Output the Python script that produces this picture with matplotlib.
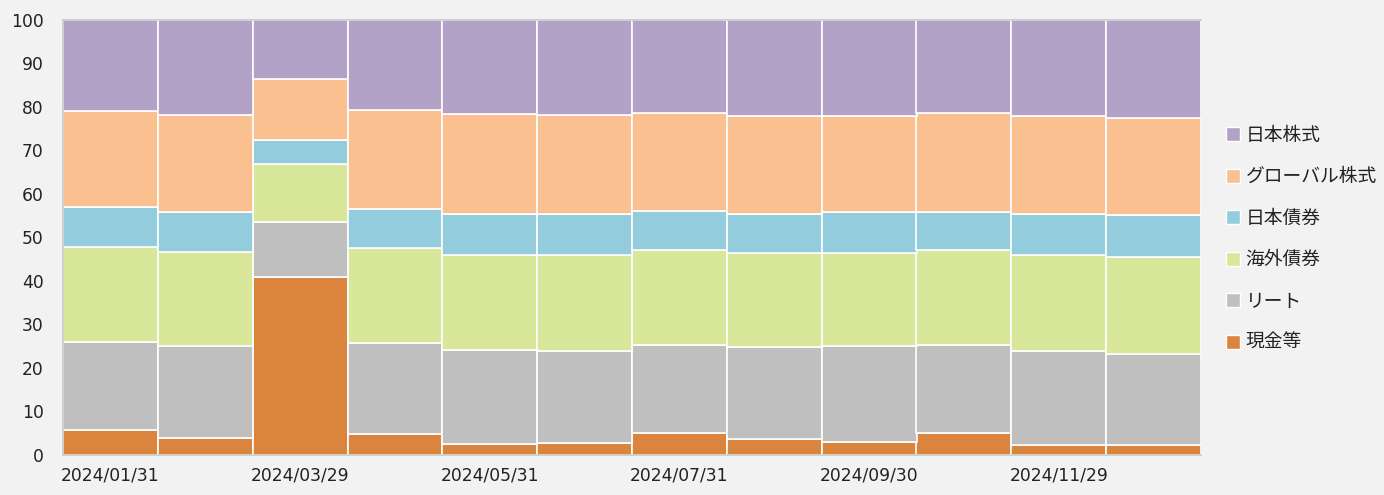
import matplotlib
matplotlib.use("Agg")
import matplotlib.pyplot as plt
from matplotlib.lines import Line2D

dates = ["2024/01/31", "2024/02/29", "2024/03/29", "2024/04/30", "2024/05/31", "2024/06/28",
         "2024/07/31", "2024/08/30", "2024/09/30", "2024/10/31", "2024/11/29", "2024/12/30"]
series_names = ["現金等", "リート", "海外債券", "日本債券", "グローバル株式", "日本株式"]
cash = [5.6, 3.9, 40.8, 4.7, 2.4, 2.6, 4.9, 3.6, 2.9, 4.9, 2.2, 2.2]
reit = [20.3, 21.1, 12.7, 21.0, 21.6, 21.2, 20.3, 21.1, 22.1, 20.3, 21.7, 20.9]
overseas_bonds = [21.8, 21.5, 13.4, 21.8, 21.9, 22.2, 21.8, 21.6, 21.3, 21.8, 22.0, 22.3]
japan_bonds = [9.2, 9.4, 5.4, 8.9, 9.4, 9.3, 9.0, 9.0, 9.5, 8.9, 9.4, 9.6]
global_stocks = [22.1, 22.2, 14.1, 22.8, 23.0, 22.8, 22.6, 22.6, 22.1, 22.7, 22.6, 22.5]
japan_stocks = [21.0, 21.9, 13.6, 20.8, 21.7, 21.9, 21.4, 22.1, 22.1, 21.4, 22.1, 22.5]
yticks = list(range(0, 101, 10))

colors = ["#DB843D", "#BFBFBF", "#D8E79A", "#93CDDD", "#FAC090", "#B3A2C7"]

plt.rcParams['font.family'] = ['DejaVu Sans', 'Noto Sans CJK JP']

fig = plt.figure(figsize=(13.84, 4.95), dpi=100, facecolor="#F2F2F2")
ax = fig.add_axes([63/1384, 1 - 454.5/495, (1201-63)/1384, (454.5-19.8)/495])
ax.set_facecolor("#F2F2F2")

x = list(range(len(dates)))
data = [cash, reit, overseas_bonds, japan_bonds, global_stocks, japan_stocks]
bottom = [0.0] * len(dates)
for vals, col, name in zip(data, colors, series_names):
    ax.bar(x, vals, bottom=bottom, width=1.0, color=col, edgecolor="white", linewidth=1.2, label=name)
    bottom = [b + v for b, v in zip(bottom, vals)]

ax.set_xlim(-0.5, len(dates) - 0.5)
ax.set_ylim(0, 100)
ax.set_yticks(yticks)
ax.set_yticklabels([str(t) for t in yticks])
ax.set_xticks(x[::2])
ax.set_xticklabels(dates[::2])
ax.tick_params(axis='y', length=0, pad=14, labelsize=12.3, colors="#222222")
ax.tick_params(axis='x', length=0, pad=9, labelsize=12.3, colors="#222222")

for s in ["left", "bottom", "top"]:
    ax.spines[s].set_color("#C8C8C8")
    ax.spines[s].set_linewidth(1.2)
ax.spines["right"].set_visible(False)

handles = [Line2D([], [], marker='s', linestyle='', markersize=10, markerfacecolor=c,
                  markeredgecolor='white', markeredgewidth=1.0) for c in colors]
names_font = ['Noto Sans CJK JP', 'DejaVu Sans']
leg = fig.legend(handles[::-1], series_names[::-1], loc='upper left',
                 bbox_to_anchor=(1210/1384, 1 - 108/495), frameon=False,
                 labelspacing=1.09, handlelength=0.7, handletextpad=0.3,
                 prop={'family': names_font, 'size': 13.5})
for t in leg.get_texts():
    t.set_color("#222222")

fig.savefig("out.png", dpi=100, facecolor=fig.get_facecolor())
